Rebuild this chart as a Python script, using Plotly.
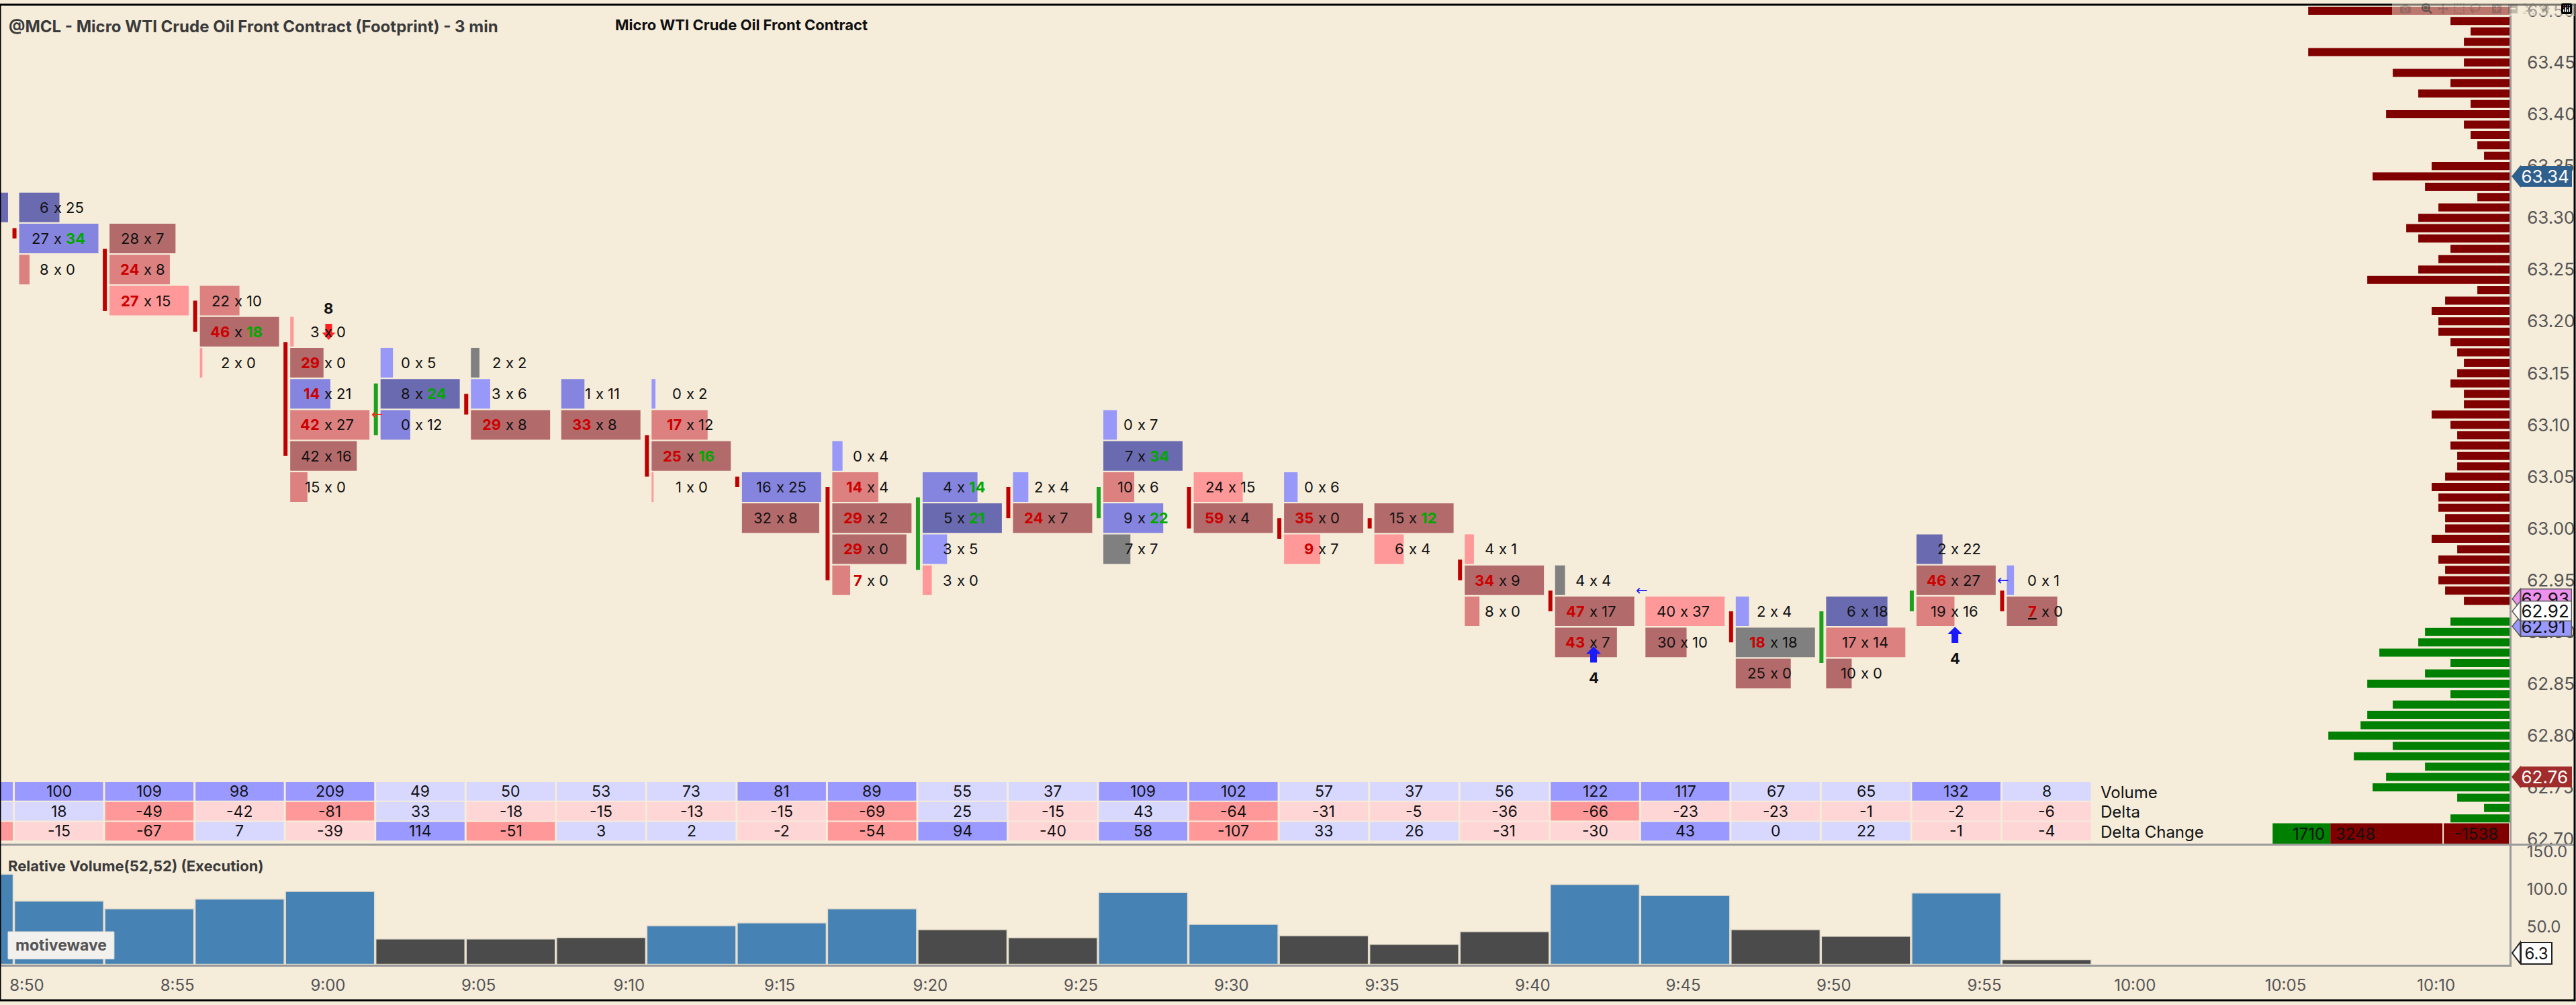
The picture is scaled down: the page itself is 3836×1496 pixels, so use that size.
import pandas as pd
import plotly.graph_objects as go

DAY = "2025-06-02 "

# ---- footprint bars (3 min) ----
bar_times = ["8:48", "8:51", "8:54", "8:57", "9:00", "9:03", "9:06", "9:09", "9:12", "9:15",
             "9:18", "9:21", "9:24", "9:27", "9:30", "9:33", "9:36", "9:39", "9:42", "9:45",
             "9:48", "9:51", "9:54", "9:57"]

# price of the top footprint row of each bar (rows are 3 ticks = 0.03)
bar_top = [63.31, 63.31, 63.28, 63.22, 63.19, 63.16, 63.16, 63.13, 63.13, 63.04,
           63.07, 63.04, 63.04, 63.10, 63.04, 63.04, 63.01, 62.98, 62.95, 62.92,
           62.92, 62.92, 62.98, 62.95]

bar_bid = [[9], [6, 27, 8], [28, 24, 27], [22, 46, 2], [3, 29, 14, 42, 42, 15], [0, 8, 0],
           [2, 3, 29], [1, 33], [0, 17, 25, 1], [16, 32], [0, 14, 29, 29, 7], [4, 5, 3, 3],
           [2, 24], [0, 7, 10, 9, 7], [24, 59], [0, 35, 9], [15, 6], [4, 34, 8], [4, 47, 43],
           [40, 30], [2, 18, 25], [6, 17, 10], [2, 46, 19], [0, 7]]
bar_ask = [[30], [25, 34, 0], [7, 8, 15], [10, 18, 0], [0, 0, 21, 27, 16, 0], [5, 24, 12],
           [2, 6, 8], [11, 8], [2, 12, 16, 0], [25, 8], [4, 4, 2, 0, 0], [14, 21, 5, 0],
           [4, 7], [7, 34, 6, 22, 7], [15, 4], [6, 0, 7], [12, 4], [1, 9, 0], [4, 17, 7],
           [37, 10], [4, 18, 0], [18, 14, 0], [22, 27, 16], [1, 0]]
# shade tier: 3..1 blue, 0 grey, -1..-3 red
bar_shade = [[3], [3, 2, -2], [-3, -2, -1], [-2, -3, -1], [-1, -3, 2, -2, -3, -2], [1, 3, 2],
             [0, 1, -3], [2, -3], [1, -2, -3, -1], [2, -3], [1, -2, -3, -3, -2], [2, 3, 1, -1],
             [1, -3], [1, 3, -2, 2, 0], [-1, -3], [1, -3, -1], [-3, -1], [-1, -3, -2], [0, -3, -3],
             [-1, -3], [1, 0, -3], [3, -2, -3], [3, -3, -2], [1, -3]]
# imbalance flags: b = bid, a = ask, u = underlined
bar_flag = [[""], ["", "a", ""], ["", "b", "b"], ["", "ba", ""], ["", "b", "b", "b", "", ""],
            ["", "a", ""], ["", "", "b"], ["", "b"], ["", "b", "ba", ""], ["", ""],
            ["", "b", "b", "b", "b"], ["a", "a", "", ""], ["", "b"], ["", "a", "", "a", ""],
            ["", "b"], ["", "b", "b"], ["a", ""], ["", "b", ""], ["", "b", "b"], ["", ""],
            ["", "b", ""], ["", "", ""], ["", "b", ""], ["", "bu"]]

candle_open = [None, 63.29, 63.27, 63.22, 63.18, 63.09, 63.13, None, 63.09, 63.05, 63.04, 62.96,
               63.04, 63.01, 63.04, 63.01, 63.01, 62.97, 62.94, None, 62.92, 62.87, 62.92, 62.94]
candle_close = [None, 63.28, 63.21, 63.19, 63.07, 63.14, 63.11, None, 63.05, 63.04, 62.95, 63.03,
                63.01, 63.04, 63.00, 62.99, 63.00, 62.95, 62.92, None, 62.89, 62.92, 62.94, 62.92]

# ---- table rows ----
tbl_volume = [140, 100, 109, 98, 209, 49, 50, 53, 73, 81, 89, 55, 37, 109, 102, 57, 37, 56, 122,
              117, 67, 65, 132, 8]
tbl_delta = [33, 18, -49, -42, -81, 33, -18, -15, -13, -15, -69, 25, -15, 43, -64, -31, -5, -36,
             -66, -23, -23, -1, -2, -6]
tbl_dchange = [-60, -15, -67, 7, -39, 114, -51, 3, 2, -2, -54, 94, -40, 58, -107, 33, 26, -31,
               -30, 43, 0, 22, -1, -4]

# ---- relative volume ----
rel_volume = [119.5, 84.0, 73.7, 86.7, 96.7, 33.6, 33.6, 35.7, 51.3, 54.9, 73.7, 46.0, 35.4, 95.6,
              53.0, 38.0, 26.5, 43.4, 106.0, 91.4, 46.0, 37.2, 94.7, 6.3]

# ---- volume profile (per tick) ----
prof_sell_top = 63.50
prof_sell = [150, 44, 29, 34, 150, 34, 87, 44, 68, 29, 92, 34, 29, 24, 19, 58, 102, 63, 24, 53,
             68, 77, 68, 44, 53, 68, 106, 24, 48, 58, 53, 53, 44, 39, 34, 39, 44, 34, 34, 58,
             44, 39, 44, 39, 39, 48, 58, 53, 53, 48, 48, 58, 39, 53, 48, 53, 48, 34]
prof_buy_top = 62.91
prof_buy = [44, 63, 68, 97, 44, 63, 106, 44, 87, 106, 111, 135, 87, 116, 63, 92, 102, 39, 19, 44]
sum_buy, sum_sell, sum_delta = 1710, 3248, -1538

price_ticks = [62.70, 62.75, 62.80, 62.85, 62.90, 62.95, 63.00, 63.05, 63.10, 63.15, 63.20,
               63.25, 63.30, 63.35, 63.40, 63.45, 63.50]
# price tags on the axis: price, fill, text colour (drawn in this order)
price_tags = [(63.34, "#2f5f8c", "white"), (62.93, "#ee90ee", "#111"), (62.91, "#9999ff", "#111"),
              (62.92, "#ffffff", "#111"), (62.76, "#a02c2c", "white")]
rel_tag = 6.3

signals = [("9:00", "down", 63.182, "8"), ("9:42", "up", 62.886, "4"), ("9:54", "up", 62.905, "4")]
side_arrows = [("9:03", 63.11, "#ff1a1a"), ("9:45", 62.94, "#1a1aff"), ("9:57", 62.95, "#1a1aff")]

# ---- layout constants ----
W, H = 3836, 1496
PLOT_W = 3739
MAIN_BOTTOM = 1262
LOWER_BOTTOM = 1442
PX_PER_PRICE = 1556
PX_PER_MIN = 44.87
PX_PER_REL = 1.1333
PROF_PX = 2.0
ROW = 0.03
CELL_FULL = 118
BG = "#f5ecda"
FONT = "Inter, Roboto, sans-serif"
TAG_NUDGE = {62.93: 3, 62.91: -7}   # px, stacked tags are pushed apart

SHADE = {3: "#6a6ab0", 2: "#8585e0", 1: "#9898f8", 0: "#808080",
         -1: "#ff9898", -2: "#dc8080", -3: "#b36a6a"}
BOLD_RED, BOLD_GREEN = "#cc0000", "#00a800"

XD = PLOT_W / W
Y_MAIN0 = 1 - MAIN_BOTTOM / H
Y_LOW0 = 1 - LOWER_BOTTOM / H
P_TOP = 63.50 + 9 / PX_PER_PRICE
P_BOT = 63.50 - (MAIN_BOTTOM - 9) / PX_PER_PRICE
REL_TOP = (LOWER_BOTTOM - MAIN_BOTTOM) / PX_PER_REL


def at(t, px=0.0):
    return pd.Timestamp(DAY + t.zfill(5)) + pd.Timedelta(minutes=px / PX_PER_MIN)


def iso(ts):
    return ts.strftime("%Y-%m-%d %H:%M:%S") + ".%03d" % (ts.microsecond // 1000)


T_ORIGIN = at("8:50")
T_START = T_ORIGIN - pd.Timedelta(minutes=40 / PX_PER_MIN)
T_END = T_START + pd.Timedelta(minutes=PLOT_W / PX_PER_MIN)


def col_left(t):
    return at(t) - pd.Timedelta(minutes=1.5) + pd.Timedelta(minutes=3 / PX_PER_MIN)


def shift(ts, px):
    return ts + pd.Timedelta(minutes=px / PX_PER_MIN)


def yp(px):
    return 1 - px / H


shapes = []
annots = []


def note(**kw):
    kw.setdefault("showarrow", False)
    kw.setdefault("xanchor", "center")
    kw.setdefault("yanchor", "middle")
    annots.append(kw)


# footprint cells, candles and numbers
for i, t in enumerate(bar_times):
    left = col_left(t)
    totals = [b + a for b, a in zip(bar_bid[i], bar_ask[i])]
    denom = max(max(totals), 11)
    for k, (b, a) in enumerate(zip(bar_bid[i], bar_ask[i])):
        p = bar_top[i] - k * ROW
        w = CELL_FULL * (b + a) / denom
        x0 = shift(left, 8)
        shapes.append(dict(type="rect", xref="x", yref="y", x0=iso(x0), x1=iso(shift(x0, w)),
                           y0=p - 0.0143, y1=p + 0.0143, fillcolor=SHADE[bar_shade[i][k]],
                           line_width=0))
        if at(t) < T_START:
            continue
        fl = bar_flag[i][k]
        bt = str(b)
        at_ = str(a)
        if "b" in fl:
            bt = f"<b><span style='color:{BOLD_RED}'>{bt}</span></b>"
            if "u" in fl:
                bt = f"<u>{bt}</u>"
        if "a" in fl:
            at_ = f"<b><span style='color:{BOLD_GREEN}'>{at_}</span></b>"
        xc = iso(at(t, 1))
        f = dict(family=FONT, size=22, color="#111")
        note(x=xc, y=p, xref="x", yref="y", text=bt, xanchor="right", xshift=-11, font=f)
        note(x=xc, y=p, xref="x", yref="y", text="x", font=f)
        note(x=xc, y=p, xref="x", yref="y", text=at_, xanchor="left", xshift=10, font=f)
    o, c = candle_open[i], candle_close[i]
    if o is not None and o != c:
        shapes.append(dict(type="rect", xref="x", yref="y", x0=iso(shift(left, -2)),
                           x1=iso(shift(left, 4)), y0=min(o, c), y1=max(o, c),
                           fillcolor="#c00000" if c < o else "#1ea01e", line_width=0))

# signal arrows
for t, kind, p, lab in signals:
    if kind == "up":
        path = "M 0,0 L 11,-11 L 5,-11 L 5,-24 L -5,-24 L -5,-11 L -11,-11 Z"
        col, ysh = "#1a1aff", -47
    else:
        path = "M 0,0 L 10,11 L 5,11 L 5,24 L -5,24 L -5,11 L -10,11 Z"
        col, ysh = "#ff2020", 47
    shapes.append(dict(type="path", xref="x", yref="y", xsizemode="pixel", ysizemode="pixel",
                       xanchor=iso(at(t, 1)), yanchor=p, path=path, fillcolor=col, line_width=0))
    note(x=iso(at(t, 1)), y=p, xref="x", yref="y", text=f"<b>{lab}</b>", yshift=ysh,
         font=dict(family=FONT, size=22, color="#111"))

for t, p, col in side_arrows:
    note(x=iso(shift(col_left(t), 3)), y=p, xref="x", yref="y", text="←",
         font=dict(family="DejaVu Sans", size=21, color=col))


# table
def tone(v, lim):
    if v >= lim:
        return "#9999ff"
    if v >= 0:
        return "#d8d8ff"
    if v > -lim:
        return "#ffd6d6"
    return "#ff9999"


rows = [(tbl_volume, 75, 1168, 1196), (tbl_delta, 45, 1198, 1226), (tbl_dchange, 42, 1228, 1256)]
for vals, lim, top, bot in rows:
    for i, t in enumerate(bar_times):
        left = col_left(t)
        v = vals[i]
        fill = ("#9999ff" if v >= lim else "#d8d8ff") if vals is tbl_volume else tone(v, lim)
        shapes.append(dict(type="rect", xref="x", yref="paper", x0=iso(shift(left, 1.5)),
                           x1=iso(shift(left, 3 * PX_PER_MIN - 1.5)), y0=yp(bot), y1=yp(top),
                           fillcolor=fill, line_width=0))
        if at(t) >= T_START:
            note(x=iso(at(t, 3)), y=yp((top + bot) / 2), xref="x", yref="paper", text=str(v),
                 font=dict(family=FONT, size=23, color="#111"))
for lab, ypx in [("Volume", 1184), ("Delta", 1213), ("Delta Change", 1243)]:
    note(x=iso(shift(col_left(bar_times[-1]), 3 * PX_PER_MIN + 11)), y=yp(ypx), xref="x",
         yref="paper", text=lab, xanchor="left", font=dict(family=FONT, size=24, color="#111"))

# price tags on the right axis: pointed tip as a shape, body as a boxed annotation
XT, XB = 3743 / W, 3755 / W
TAG_HALF = 15
for p, fill, tc in price_tags:
    nudge = TAG_NUDGE.get(p, 0)
    pc = p + nudge / PX_PER_PRICE
    h = TAG_HALF / PX_PER_PRICE
    edge = "#5a5a5a" if fill in ("#ffffff", "#ee90ee", "#9999ff") else fill
    shapes.append(dict(type="path", xref="paper", yref="y",
                       path=f"M {XT},{pc} L {XB},{pc + h} L {XB},{pc - h} Z",
                       fillcolor=fill, line=dict(color=edge, width=1.5)))
    note(x=XB, y=p, yshift=nudge, xref="paper", yref="y", text=f"{p:.2f}", xanchor="left",
         width=74, height=2 * TAG_HALF - 2, align="left", bgcolor=fill, bordercolor=edge,
         borderwidth=1.5, borderpad=0, font=dict(family=FONT, size=26, color=tc))

rh = 16 / PX_PER_REL
rc = max(rel_tag, rh + 1)
shapes.append(dict(type="path", xref="paper", yref="y2",
                   path=f"M {XT},{rc} L {XB},{rc + rh} L {XB},{rc - rh} Z",
                   fillcolor="white", line=dict(color="#222", width=2)))
note(x=XB, y=rc, xref="paper", yref="y2", text=f"{rel_tag:.1f}", xanchor="left",
     width=44, height=30, bgcolor="white", bordercolor="#222", borderwidth=2, borderpad=0,
     font=dict(family=FONT, size=24, color="#111"))

# profile summary box
for x0, x1, fill in [(3386, 3472, "#008000"), (3472, 3639, "#800000"), (3641, 3738, "#800000")]:
    shapes.append(dict(type="rect", xref="paper", yref="paper", x0=x0 / W, x1=x1 / W,
                       y0=yp(1261), y1=yp(1230), fillcolor=fill, line_width=0))
sf = dict(family=FONT, size=24, color="#111")
note(x=3466 / W, y=yp(1246), xref="paper", yref="paper", text=str(sum_buy), xanchor="right", font=sf)
note(x=3478 / W, y=yp(1246), xref="paper", yref="paper", text=str(sum_sell), xanchor="left", font=sf)
note(x=3724 / W, y=yp(1246), xref="paper", yref="paper", text=str(sum_delta), xanchor="right", font=sf)

# separators and frame
shapes.append(dict(type="line", xref="paper", yref="paper", x0=0, x1=1, y0=yp(MAIN_BOTTOM),
                   y1=yp(MAIN_BOTTOM), line=dict(color="#9a9a9a", width=3)))
shapes.append(dict(type="rect", xref="paper", yref="paper", x0=0, x1=1, y0=0, y1=1,
                   line=dict(color="#000", width=3)))

# motivewave badge
shapes.append(dict(type="rect", xref="paper", yref="paper", x0=12 / W, x1=170 / W, y0=yp(1434),
                   y1=yp(1393), fillcolor="#f2f1ee", line=dict(color="#e2e0da", width=1)))
note(x=91 / W, y=yp(1413), xref="paper", yref="paper", text="<b>motivewave</b>",
     font=dict(family=FONT, size=23, color="#555"))

# titles
note(x=11 / W, y=yp(33), xref="paper", yref="paper", xanchor="left",
     text="<b>@MCL - Micro WTI Crude Oil Front Contract (Footprint) - 3 min</b>",
     font=dict(family=FONT, size=24, color="#3a3a3a"))
note(x=914 / W, y=yp(30), xref="paper", yref="paper", xanchor="left",
     text="<b>Micro WTI Crude Oil Front Contract</b>", font=dict(family=FONT, size=22, color="#111"))
note(x=10 / W, y=yp(1294), xref="paper", yref="paper", xanchor="left",
     text="<b>Relative Volume(52,52) (Execution)</b>", font=dict(family=FONT, size=22, color="#3a3a3a"))

fig = go.Figure()

sell_prices = [round(prof_sell_top - 0.01 * k, 2) for k in range(len(prof_sell))]
buy_prices = [round(prof_buy_top - 0.01 * k, 2) for k in range(len(prof_buy))]
fig.add_trace(go.Bar(y=sell_prices, x=prof_sell, orientation="h", xaxis="x3", yaxis="y",
                     width=0.0078, marker=dict(color="#800000", line_width=0), hoverinfo="skip"))
fig.add_trace(go.Bar(y=buy_prices, x=prof_buy, orientation="h", xaxis="x3", yaxis="y",
                     width=0.0078, marker=dict(color="#008000", line_width=0), hoverinfo="skip"))

fig.add_trace(go.Bar(x=[iso(at(t, 3)) for t in bar_times], y=rel_volume, xaxis="x2", yaxis="y2",
                     width=3 * 60000 - 2 * 60000 / PX_PER_MIN,
                     marker=dict(color=["#4682b4" if v >= 50 else "#4b4b4b" for v in rel_volume],
                                 line=dict(color="#e4dccb", width=1.5)),
                     hoverinfo="skip"))

fig.update_layout(
    width=W, height=H, margin=dict(l=0, r=0, t=0, b=0),
    paper_bgcolor=BG, plot_bgcolor=BG, showlegend=False,
    font=dict(family=FONT, color="#111"),
    xaxis=dict(domain=[0, XD], type="date", range=[iso(T_START), iso(T_END)], anchor="y",
               showticklabels=False, showgrid=False, zeroline=False, showline=False),
    xaxis2=dict(domain=[0, XD], type="date", matches="x", anchor="y2", showgrid=False,
                zeroline=False, showline=True, linecolor="#9a9a9a", linewidth=3, ticks="",
                tickformat="%-H:%M", dtick=300000, tick0=iso(T_ORIGIN),
                tickfont=dict(family=FONT, size=24, color="#555"), ticklabelstandoff=8),
    xaxis3=dict(overlaying="x", anchor="y", range=[PLOT_W / PROF_PX, 0], visible=False),
    yaxis=dict(domain=[Y_MAIN0, 1], range=[P_BOT, P_TOP], anchor="x", side="right",
               tickvals=price_ticks, ticktext=[f"{v:.2f}" for v in price_ticks], ticks="",
               showgrid=False, zeroline=False, showline=True, linecolor="#9a9a9a", linewidth=3,
               tickfont=dict(family=FONT, size=26, color="#555"), ticklabelstandoff=18,
               ticklabeloverflow="allow"),
    yaxis2=dict(domain=[Y_LOW0, Y_MAIN0], range=[0, REL_TOP], anchor="x2", side="right",
                tickvals=[50, 100, 150], ticktext=["50.0", "100.0", "150.0"], ticks="",
                showgrid=False, zeroline=False, showline=True, linecolor="#9a9a9a", linewidth=3,
                tickfont=dict(family=FONT, size=24, color="#555"), ticklabelstandoff=18),
    shapes=shapes, annotations=annots,
)

fig.write_html("out.html",
               post_script="document.body.style.margin='0px';document.body.style.overflow='hidden';")
